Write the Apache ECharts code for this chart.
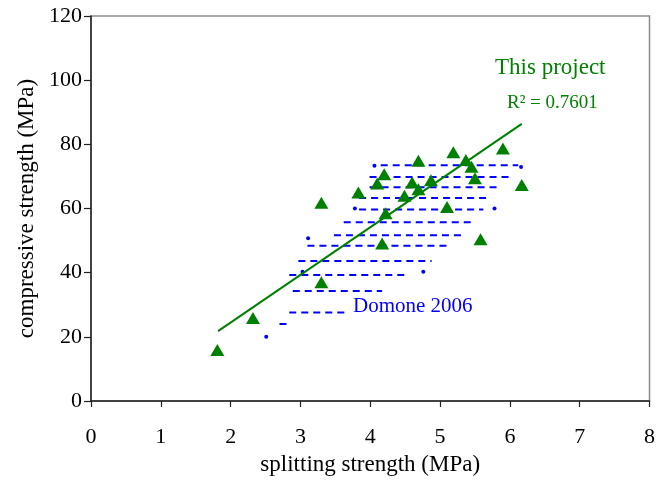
<!DOCTYPE html>
<html>
<head>
<meta charset="utf-8">
<script src="https://cdn.jsdelivr.net/npm/echarts/dist/echarts.min.js"></script>
<style>
  html, body { margin: 0; padding: 0; background: #ffffff; }
  #chart { width: 658px; height: 483px; }
</style>
</head>
<body>
<div id="chart"></div>
<script>
// This project: splitting strength (MPa) against compressive strength (MPa)
const projectSplit = [1.81, 2.32, 3.30, 3.30, 3.83, 4.10, 4.20, 4.22, 4.17, 4.69, 4.60,
                      4.49, 4.69, 4.87, 5.10, 5.19, 5.37, 5.45, 5.50, 5.58, 5.90, 6.17];
const projectComp  = [15.9, 25.9, 37.0, 61.8, 65.0, 67.8, 70.7, 58.5, 49.1, 74.9, 68.1,
                      64.0, 66.0, 68.8, 60.5, 77.5, 75.1, 73.0, 69.4, 50.4, 78.7, 67.3];

// Linear trend line of this project's results (end points)
const trendSplit = [1.82, 6.17];
const trendComp  = [21.8, 86.4];
const trendR2 = '0.7601';

// Domone 2006: dashed rows, one per compressive-strength level
const domoneLevel = [73.5, 69.8, 66.6, 63.3, 59.7, 55.7, 51.7, 48.4, 43.6, 39.3, 34.3, 27.6, 24.0];
const domoneFrom  = [4.15, 3.99, 3.99, 3.84, 3.84, 3.62, 3.48, 3.10, 2.97, 2.84, 2.89, 2.84, 2.70];
const domoneTo    = [6.12, 6.00, 5.83, 5.66, 5.62, 5.47, 5.31, 5.12, 4.88, 4.52, 4.17, 3.65, 2.80];

// Domone 2006: single points
const domoneDotSplit = [4.06, 6.16, 3.78, 5.78, 3.11, 3.03, 4.76, 2.51];
const domoneDotComp  = [73.3, 72.9, 60.0, 60.0, 50.7, 40.3, 40.3, 20.0];

const FONT = '"Liberation Serif", "Times New Roman", serif';
const GREEN = '#008000';
const BLUE = '#0000ff';

const chart = echarts.init(document.getElementById('chart'), null, { renderer: 'canvas' });

const domoneRows = domoneLevel.map((lvl, i) => ({
  type: 'line',
  data: [[domoneFrom[i], lvl], [domoneTo[i], lvl]],
  symbol: 'none',
  silent: true,
  z: 2,
  lineStyle: { color: BLUE, width: 2, type: [7, 5], opacity: 1 }
}));

const option = {
  animation: false,
  backgroundColor: '#ffffff',
  grid: {
    left: 91, right: 5.5, top: 16, bottom: 82,
    show: true, borderColor: '#8c8c8c', borderWidth: 1.5, backgroundColor: 'transparent'
  },
  xAxis: {
    type: 'value', min: 0, max: 8, interval: 1,
    name: 'splitting strength (MPa)', nameLocation: 'middle', nameGap: 52,
    nameTextStyle: { fontFamily: FONT, fontSize: 23, color: '#000' },
    axisLine: { onZero: false, lineStyle: { color: '#222', width: 1.5 } },
    axisTick: { show: true, inside: false, length: 6, lineStyle: { color: '#222', width: 1.2 } },
    axisLabel: { fontFamily: FONT, fontSize: 22, color: '#000', margin: 25 },
    splitLine: { show: false }
  },
  yAxis: {
    type: 'value', min: 0, max: 120, interval: 20,
    name: 'compressive strength (MPa)', nameLocation: 'middle', nameGap: 53,
    nameTextStyle: { fontFamily: FONT, fontSize: 23, color: '#000' },
    axisLine: { show: true, onZero: false, lineStyle: { color: '#222', width: 1.5 } },
    axisTick: { show: true, inside: false, length: 7, lineStyle: { color: '#222', width: 1.2 } },
    axisLabel: { fontFamily: FONT, fontSize: 22, color: '#000', margin: 9 },
    splitLine: { show: false }
  },
  series: [
    ...domoneRows,
    {
      type: 'scatter',
      data: domoneDotSplit.map((x, i) => [x, domoneDotComp[i]]),
      symbol: 'circle', symbolSize: 4, silent: true, z: 3,
      itemStyle: { color: BLUE, opacity: 1 }
    },
    {
      type: 'scatter',
      data: projectSplit.map((x, i) => [x, projectComp[i]]),
      symbol: 'triangle', symbolSize: [14, 12], silent: true, z: 4,
      itemStyle: { color: GREEN, opacity: 1 }
    },
    {
      type: 'line',
      data: trendSplit.map((x, i) => [x, trendComp[i]]),
      symbol: 'none', silent: true, z: 5,
      lineStyle: { color: GREEN, width: 2, opacity: 1 }
    }
  ],
  graphic: [
    {
      type: 'text', x: 495, y: 68, z: 10,
      style: { text: 'This project', font: '23px ' + FONT, fill: GREEN, align: 'left', verticalAlign: 'middle' }
    },
    {
      type: 'text', x: 507, y: 103, z: 10,
      style: { text: 'R\u00B2 = ' + trendR2, font: '19px ' + FONT, fill: GREEN, align: 'left', verticalAlign: 'middle' }
    },
    {
      type: 'text', x: 353, y: 306, z: 10,
      style: { text: 'Domone 2006', font: '21px ' + FONT, fill: BLUE, align: 'left', verticalAlign: 'middle' }
    }
  ]
};

chart.setOption(option);
</script>
</body>
</html>
